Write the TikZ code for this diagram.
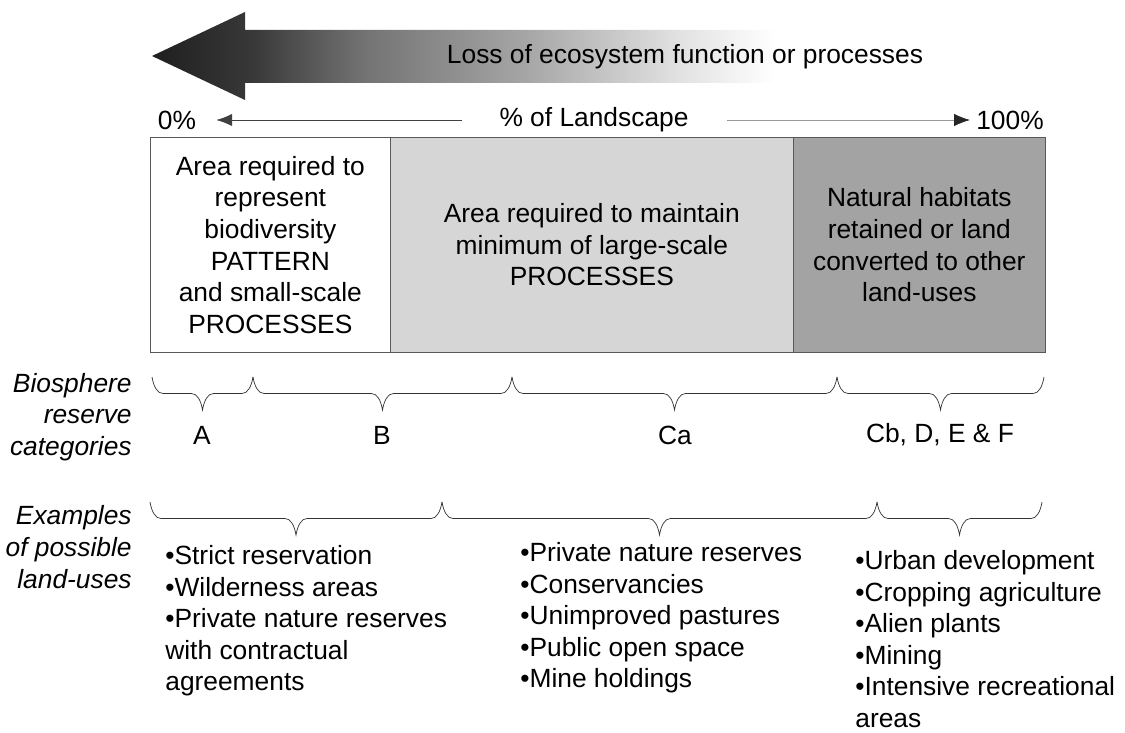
\documentclass[tikz,border=0pt]{standalone}
\usepackage{fontspec}
\setmainfont{Liberation Sans}
\usetikzlibrary{decorations.pathreplacing,arrows.meta}
\pgfdeclarehorizontalshading{fade}{100bp}{color(0bp)=(black!88); color(25bp)=(black!88); color(33bp)=(black!78); color(42bp)=(black!55); color(55bp)=(black!35); color(67bp)=(black!12); color(75bp)=(white); color(100bp)=(white)}
\tikzstyle{txt}=[font=\fontsize{15}{18}\selectfont, inner sep=0pt]
\tikzstyle{area}=[txt, draw=black!65, anchor=north west, align=center, minimum height=4.3cm]
\tikzstyle{side}=[txt, font=\fontsize{15}{18}\selectfont\itshape, anchor=east, align=right]
\tikzstyle{cat}=[txt]
\tikzstyle{uses}=[txt, anchor=north west, align=left]
\tikzstyle{pct}=[-{Latex[length=9pt,width=7pt]}, thin]
\tikzstyle{brace}=[decorate, decoration={brace, mirror, amplitude=0.22cm, transform={yscale=3}}, draw=black!80, thin]

\begin{document}
\begin{tikzpicture}[x=0.02cm, y=-0.02cm]
			\useasboundingbox (0,0) rectangle (1125,733);

			%The big arrow
			\shade[shading=fade] (152,56) -- (245,12) -- (245,30) -- (775,30) -- (775,83) -- (245,83) -- (245,100) -- cycle;
			\draw (685,57) node[txt] (loss) {Loss of ecosystem function or processes};

			%The landscape scale
			\draw (177,120) node[txt] (zero) {0\%};
			\draw (1010,120) node[txt] (full) {100\%};
			\draw (594,120) node[txt] (land) {\% of Landscape};
			\coordinate (lend) at (462,120);
			\coordinate (rend) at (727,120);
			\draw[pct, draw=black!75, shorten >=0.4cm] (lend) -- (zero);
			\draw[pct, draw=black!40, -{Latex[length=9pt,width=7pt,color=black!85]}, shorten >=0.12cm] (rend) -- (full);

			%The boxes
			\draw (150,137) node[area, minimum width=4.8cm, fill=white] (pattern) {Area required to\\represent\\biodiversity\\PATTERN\\and small-scale\\PROCESSES};
			\draw (390,137) node[area, minimum width=8.06cm, fill=black!16] (large) {Area required to maintain\\minimum of large-scale\\PROCESSES};
			\draw (793,137) node[area, minimum width=5.04cm, fill=black!36] (other) {Natural habitats\\retained or land\\converted to other\\land-uses};

			%The categories
			\draw (132,417) node[side] (biosph) {Biosphere\\reserve\\categories};
			\coordinate (c0) at (152,377);
			\coordinate (c1) at (253,377);
			\coordinate (c2) at (512,377);
			\coordinate (c3) at (837,377);
			\coordinate (c4) at (1044,377);
			\draw[brace] (c0) -- (c1);
			\draw[brace] (c1) -- (c2);
			\draw[brace] (c2) -- (c3);
			\draw[brace] (c3) -- (c4);
			\draw (202,435) node[cat] (catA) {A};
			\draw (382,435) node[cat] (catB) {B};
			\draw (675,435) node[cat] (catCa) {Ca};
			\draw (940,435) node[cat] (catCb) {Cb, D, E \& F};

			%The land-uses
			\draw (132,547) node[side] (examples) {Examples\\of possible\\land-uses};
			\coordinate (u0) at (150,502);
			\coordinate (u1) at (442,502);
			\coordinate (u2) at (877,502);
			\coordinate (u3) at (1042,502);
			\draw[brace] (u0) -- (u1);
			\draw[brace] (u1) -- (u2);
			\draw[brace] (u2) -- (u3);
			\draw (165,545) node[uses] (strict) {•Strict reservation\\•Wilderness areas\\•Private nature reserves\\with contractual\\agreements};
			\draw (520,542) node[uses] (private) {•Private nature reserves\\•Conservancies\\•Unimproved pastures\\•Public open space\\•Mine holdings};
			\draw (855,550) node[uses] (urban) {•Urban development\\•Cropping agriculture\\•Alien plants\\•Mining\\•Intensive recreational\\areas};
		\end{tikzpicture}
\end{document}
